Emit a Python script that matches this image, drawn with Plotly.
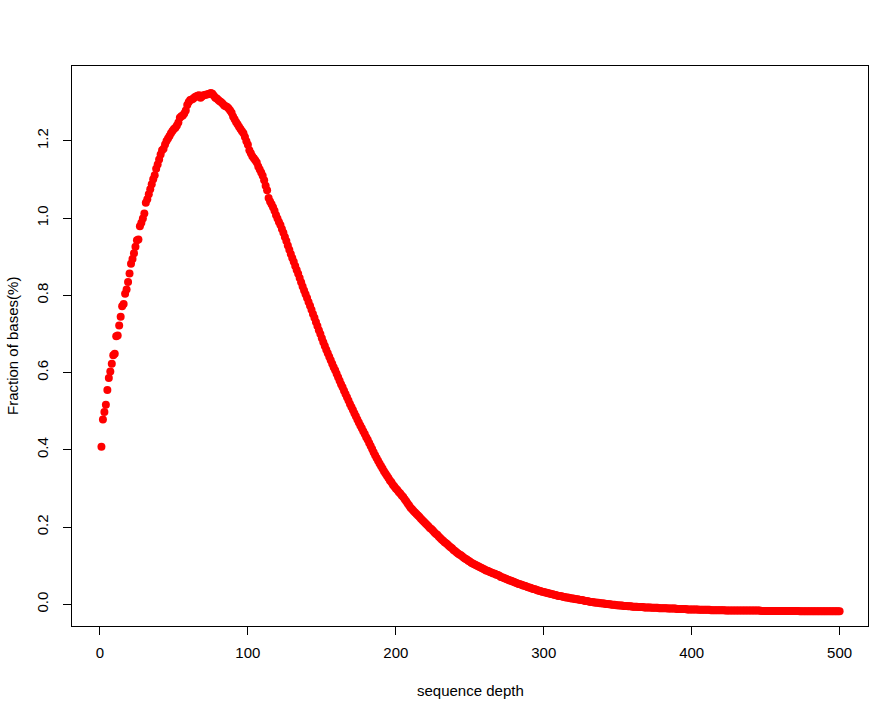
import plotly.graph_objects as go

# sequence depth 1..500
depth = list(range(1, 501))

# Fraction of bases (%), 10 values per row
frac_1_100 = [
    0.408, 0.479, 0.498, 0.517, 0.555, 0.586, 0.603, 0.623, 0.645, 0.649,
    0.694, 0.696, 0.722, 0.745, 0.772, 0.778, 0.804, 0.815, 0.835, 0.857,
    0.882, 0.894, 0.909, 0.926, 0.943, 0.945, 0.979, 0.988, 0.999, 1.012,
    1.040, 1.049, 1.062, 1.075, 1.088, 1.101, 1.111, 1.128, 1.139, 1.152,
    1.165, 1.176, 1.180, 1.191, 1.200, 1.206, 1.213, 1.220, 1.226, 1.231,
    1.234, 1.240, 1.248, 1.260, 1.264, 1.266, 1.271, 1.279, 1.293, 1.301,
    1.306, 1.307, 1.309, 1.313, 1.315, 1.317, 1.318, 1.312, 1.315, 1.318,
    1.319, 1.320, 1.321, 1.322, 1.324, 1.322, 1.317, 1.312, 1.310, 1.306,
    1.303, 1.300, 1.296, 1.292, 1.290, 1.288, 1.284, 1.279, 1.273, 1.263,
    1.256, 1.249, 1.243, 1.237, 1.231, 1.225, 1.220, 1.210, 1.199, 1.190,
]
frac_101_200 = [
    1.176, 1.168, 1.160, 1.155, 1.150, 1.144, 1.134, 1.126, 1.118, 1.110,
    1.098, 1.084, 1.072, 1.052, 1.043, 1.036, 1.028, 1.019, 1.008, 0.999,
    0.990, 0.982, 0.972, 0.962, 0.951, 0.941, 0.929, 0.918, 0.907, 0.897,
    0.887, 0.876, 0.866, 0.856, 0.845, 0.834, 0.823, 0.813, 0.803, 0.793,
    0.783, 0.773, 0.763, 0.752, 0.742, 0.731, 0.721, 0.710, 0.700, 0.689,
    0.679, 0.669, 0.659, 0.650, 0.641, 0.632, 0.623, 0.614, 0.606, 0.597,
    0.588, 0.579, 0.570, 0.562, 0.553, 0.545, 0.536, 0.528, 0.519, 0.511,
    0.503, 0.495, 0.487, 0.479, 0.471, 0.463, 0.456, 0.448, 0.441, 0.433,
    0.426, 0.418, 0.410, 0.402, 0.394, 0.386, 0.379, 0.372, 0.365, 0.358,
    0.352, 0.345, 0.339, 0.333, 0.327, 0.321, 0.316, 0.310, 0.305, 0.300,
]
frac_201_300 = [
    0.296, 0.291, 0.287, 0.282, 0.278, 0.272, 0.267, 0.261, 0.256, 0.250,
    0.246, 0.242, 0.238, 0.234, 0.230, 0.226, 0.222, 0.218, 0.214, 0.210,
    0.206, 0.202, 0.198, 0.195, 0.191, 0.187, 0.183, 0.180, 0.176, 0.172,
    0.168, 0.165, 0.161, 0.158, 0.155, 0.151, 0.148, 0.145, 0.141, 0.138,
    0.135, 0.132, 0.129, 0.127, 0.124, 0.121, 0.118, 0.116, 0.113, 0.111,
    0.108, 0.106, 0.104, 0.102, 0.100, 0.098, 0.096, 0.094, 0.092, 0.090,
    0.088, 0.087, 0.085, 0.083, 0.082, 0.080, 0.079, 0.077, 0.076, 0.074,
    0.071, 0.070, 0.068, 0.067, 0.065, 0.064, 0.062, 0.061, 0.059, 0.058,
    0.056, 0.055, 0.053, 0.052, 0.051, 0.049, 0.048, 0.047, 0.045, 0.044,
    0.043, 0.041, 0.040, 0.039, 0.038, 0.036, 0.035, 0.034, 0.033, 0.032,
]
frac_301_400 = [
    0.031, 0.030, 0.029, 0.028, 0.027, 0.026, 0.025, 0.024, 0.023, 0.022,
    0.0215, 0.021, 0.020, 0.019, 0.018, 0.018, 0.017, 0.016, 0.015, 0.015,
    0.014, 0.013, 0.013, 0.012, 0.011, 0.011, 0.010, 0.009, 0.009, 0.008,
    0.007, 0.006, 0.006, 0.005, 0.005, 0.004, 0.004, 0.003, 0.003, 0.002,
    0.002, 0.001, 0.001, 0.000, 0.000, -0.001, -0.001, -0.001, -0.002, -0.002,
    -0.003, -0.003, -0.003, -0.004, -0.004, -0.004, -0.005, -0.005, -0.005, -0.006,
    -0.006, -0.006, -0.006, -0.007, -0.007, -0.007, -0.007, -0.008, -0.008, -0.008,
    -0.008, -0.008, -0.009, -0.009, -0.009, -0.009, -0.009, -0.010, -0.010, -0.010,
    -0.010, -0.010, -0.010, -0.011, -0.011, -0.011, -0.011, -0.011, -0.011, -0.012,
    -0.012, -0.012, -0.012, -0.012, -0.012, -0.012, -0.013, -0.013, -0.013, -0.013,
]
frac_401_500 = [
    -0.013, -0.013, -0.013, -0.013, -0.014, -0.014, -0.014, -0.014, -0.014, -0.014,
    -0.014, -0.014, -0.015, -0.015, -0.015, -0.015, -0.015, -0.015, -0.015, -0.015,
    -0.015, -0.015, -0.016, -0.016, -0.016, -0.016, -0.016, -0.016, -0.016, -0.016,
    -0.016, -0.016, -0.016, -0.016, -0.016, -0.016, -0.016, -0.016, -0.016, -0.016,
    -0.016, -0.016, -0.016, -0.016, -0.016, -0.016, -0.017, -0.017, -0.017, -0.017,
    -0.017, -0.017, -0.017, -0.017, -0.017, -0.017, -0.017, -0.017, -0.017, -0.017,
    -0.017, -0.017, -0.017, -0.017, -0.017, -0.017, -0.017, -0.017, -0.017, -0.017,
    -0.017, -0.017, -0.018, -0.018, -0.018, -0.018, -0.018, -0.018, -0.018, -0.018,
    -0.018, -0.018, -0.018, -0.018, -0.018, -0.018, -0.018, -0.018, -0.018, -0.018,
    -0.018, -0.018, -0.018, -0.018, -0.018, -0.018, -0.018, -0.018, -0.018, -0.018,
]
fraction = frac_1_100 + frac_101_200 + frac_201_300 + frac_301_400 + frac_401_500

x_ticks = [0, 100, 200, 300, 400, 500]
y_ticks = [0.0, 0.2, 0.4, 0.6, 0.8, 1.0, 1.2]

FONT = "Liberation Sans, Arial, sans-serif"

fig = go.Figure()
fig.add_trace(go.Scatter(
    x=depth, y=fraction, mode="markers",
    marker=dict(color="#FF0000", size=8, line=dict(width=0)),
    showlegend=False, hoverinfo="x+y",
))

W, H = 891, 716
L, R, T, B = 72, 23, 66, 90

fig.update_layout(
    width=W, height=H,
    margin=dict(l=L, r=R, t=T, b=B, pad=0, autoexpand=False),
    paper_bgcolor="white", plot_bgcolor="white",
    font=dict(family=FONT, size=15, color="black"),
    xaxis=dict(
        range=[-18.9, 519.2], tickmode="array", tickvals=x_ticks,
        ticktext=[str(v) for v in x_ticks],
        showgrid=False, zeroline=False, showline=True, mirror=True,
        linecolor="black", linewidth=1, ticks="outside", ticklen=8,
        tickcolor="black", tickwidth=1, ticklabelstandoff=5,
    ),
    yaxis=dict(
        range=[-0.056, 1.394], tickmode="array", tickvals=y_ticks,
        ticktext=[f"{v:.1f}" for v in y_ticks], tickangle=-90,
        showgrid=False, zeroline=False, showline=True, mirror=True,
        linecolor="black", linewidth=1, ticks="outside", ticklen=8,
        tickcolor="black", tickwidth=1, ticklabelstandoff=9,
    ),
    annotations=[
        dict(text="sequence depth", xref="paper", yref="paper",
             x=0.5, y=0, yshift=-64, showarrow=False,
             xanchor="center", yanchor="middle", font=dict(size=15)),
        dict(text="Fraction of bases(%)", xref="paper", yref="paper",
             x=0, y=0.5, xshift=-60, textangle=-90, showarrow=False,
             xanchor="center", yanchor="middle", font=dict(size=15)),
    ],
)

fig.write_html("out.html", config={"displayModeBar": False},
               post_script="document.body.style.margin='0';")
